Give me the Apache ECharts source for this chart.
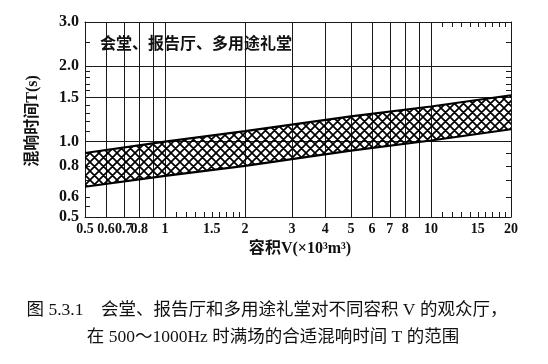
<!DOCTYPE html>
<html><head><meta charset="utf-8">
<script src="https://cdn.jsdelivr.net/npm/echarts@6/dist/echarts.min.js"></script>
<style>html,body{margin:0;padding:0;background:#fff}#c{width:548px;height:364px}</style>
</head><body><div id="c"></div>
<script>
// ---- data ----
const volumes = [0.5, 1, 2, 5, 10, 20];            // V (x10^3 m^3)
const upperT  = [0.90, 1.00, 1.10, 1.26, 1.38, 1.53]; // upper bound T (s)
const lowerT  = [0.66, 0.73, 0.80, 0.92, 1.01, 1.12]; // lower bound T (s)

const xTickLabels = [0.5, 0.6, 0.7, 0.8, 1, 1.5, 2, 3, 4, 5, 6, 7, 8, 10, 15, 20];
const xGridValues = [0.6, 0.7, 0.8, 0.9, 1, 2, 3, 4, 5, 6, 7, 8, 9, 10];
const xMinorBottom = [1.1, 1.2, 1.3, 1.4, 1.5, 1.6, 1.7, 1.8, 1.9, 11, 12, 13, 14, 15, 16, 17, 18, 19];
const xMinorTop = [11, 12, 13, 14, 15, 16, 17, 18, 19];
const yTickLabels = [0.5, 0.6, 0.8, 1.0, 1.5, 2.0, 3.0];
const yGridValues = [1.0, 1.5, 2.0];
const yMinorLeft = [0.55, 0.6, 0.7, 0.8, 0.9, 1.1, 1.2, 1.3, 1.4, 1.6, 1.7, 1.8, 1.9, 2.5];
const yMinorRight = [0.6, 0.7, 0.8, 0.9, 1.6, 1.7, 1.8, 1.9, 2.5];

const L = Math.log10;
const xMin = L(0.5), xMax = L(20), yMin = L(0.5), yMax = L(3.0);

function makeHatch() {
  const s = 9, c = document.createElement('canvas');
  c.width = s; c.height = s;
  const g = c.getContext('2d');
  g.strokeStyle = '#000'; g.lineWidth = 1.7;
  g.beginPath();
  for (const o of [-s, 0, s]) {
    g.moveTo(o, 0); g.lineTo(o + s, s);
    g.moveTo(o + s, 0); g.lineTo(o, s);
  }
  g.stroke();
  return c;
}
const hatch = makeHatch();

const serif = '"Liberation Serif", "Noto Sans CJK SC", serif';
const lineC = '#1a1a1a';

const chart = echarts.init(document.getElementById('c'), null, {renderer: 'canvas'});
const hiddenLabel = {show: false};
chart.setOption({
  animation: false,
  backgroundColor: '#fff',
  grid: {left: 85, right: 37, top: 22, bottom: 147, containLabel: false},
  xAxis: [
    { type: 'value', position: 'bottom', min: xMin, max: xMax,
      axisLine: {show: true, onZero: false, lineStyle: {color: lineC, width: 1}},
      axisTick: {show: true, inside: true, length: 5, customValues: xMinorBottom.map(L), lineStyle: {color: lineC}},
      axisLabel: {show: true, customValues: xTickLabels.map(L), margin: 5,
        formatter: v => String(Number(Math.pow(10, v).toPrecision(2))),
        fontFamily: serif, fontSize: 14, fontWeight: 'bold', color: '#111'},
      splitLine: {show: false} },
    { type: 'value', position: 'top', min: xMin, max: xMax,
      axisLine: {show: true, onZero: false, lineStyle: {color: lineC, width: 1}},
      axisTick: {show: true, inside: true, length: 195, customValues: xGridValues.map(L), lineStyle: {color: lineC, width: 1}},
      axisLabel: hiddenLabel, splitLine: {show: false} },
    { type: 'value', position: 'top', min: xMin, max: xMax,
      axisLine: {show: false, onZero: false},
      axisTick: {show: true, inside: true, length: 5, customValues: xMinorTop.map(L), lineStyle: {color: lineC}},
      axisLabel: hiddenLabel, splitLine: {show: false} }
  ],
  yAxis: [
    { type: 'value', position: 'left', min: yMin, max: yMax,
      axisLine: {show: true, onZero: false, lineStyle: {color: lineC, width: 1}},
      axisTick: {show: true, inside: true, length: 5, customValues: yMinorLeft.map(L), lineStyle: {color: lineC}},
      axisLabel: {show: true, customValues: yTickLabels.map(L), margin: 6,
        formatter: v => Math.pow(10, v).toFixed(1),
        fontFamily: serif, fontSize: 16, fontWeight: 'bold', color: '#111'},
      splitLine: {show: false} },
    { type: 'value', position: 'right', min: yMin, max: yMax,
      axisLine: {show: true, onZero: false, lineStyle: {color: lineC, width: 1}},
      axisTick: {show: true, inside: true, length: 426, customValues: yGridValues.map(L), lineStyle: {color: lineC, width: 1}},
      axisLabel: hiddenLabel, splitLine: {show: false} },
    { type: 'value', position: 'right', min: yMin, max: yMax,
      axisLine: {show: false, onZero: false},
      axisTick: {show: true, inside: true, length: 5, customValues: yMinorRight.map(L), lineStyle: {color: lineC}},
      axisLabel: hiddenLabel, splitLine: {show: false} }
  ],
  series: [
    { type: 'custom', xAxisIndex: 0, yAxisIndex: 0, z: 3,
      data: volumes.map((v, i) => [L(v), L(upperT[i]), L(lowerT[i])]),
      renderItem: function (params, api) {
        if (params.dataIndex !== 0) return null;
        const pts = [];
        for (let i = 0; i < volumes.length; i++) pts.push(api.coord([L(volumes[i]), L(upperT[i])]));
        for (let i = volumes.length - 1; i >= 0; i--) pts.push(api.coord([L(volumes[i]), L(lowerT[i])]));
        return {type: 'polygon', shape: {points: pts}, style: {fill: {image: hatch, repeat: 'repeat'}, stroke: null}};
      } },
    { type: 'line', name: 'upper', xAxisIndex: 0, yAxisIndex: 0, z: 4, symbol: 'none',
      data: volumes.map((v, i) => [L(v), L(upperT[i])]),
      lineStyle: {color: '#000', width: 2.2} },
    { type: 'line', name: 'lower', xAxisIndex: 0, yAxisIndex: 0, z: 4, symbol: 'none',
      data: volumes.map((v, i) => [L(v), L(lowerT[i])]),
      lineStyle: {color: '#000', width: 2.2} }
  ],
  graphic: [
    { type: 'text', x: 100, y: 43, z: 10,
      style: {text: '会堂、报告厅、多用途礼堂', font: 'bold 16px "Noto Sans CJK SC"', fill: '#111', textAlign: 'left', textVerticalAlign: 'middle'} },
    { type: 'text', x: 33, y: 121, rotation: Math.PI / 2, z: 10,
      style: {text: '混响时间T(s)', font: 'bold 16px "Liberation Serif", "Noto Sans CJK SC"', fill: '#111', textAlign: 'center', textVerticalAlign: 'middle'} },
    { type: 'text', x: 300, y: 249, z: 10,
      style: {text: '容积V(×10³m³)', font: 'bold 16px "Liberation Serif", "Noto Sans CJK SC"', fill: '#111', textAlign: 'center', textVerticalAlign: 'middle'} },
    { type: 'text', x: 267, y: 310, z: 10,
      style: {text: '图 5.3.1　会堂、报告厅和多用途礼堂对不同容积 V 的观众厅，', font: '17.5px "Liberation Serif", "Noto Sans CJK SC"', fill: '#111', textAlign: 'center', textVerticalAlign: 'middle'} },
    { type: 'text', x: 273, y: 337, z: 10,
      style: {text: '在 500～1000Hz 时满场的合适混响时间 T 的范围', font: '17.5px "Liberation Serif", "Noto Sans CJK SC"', fill: '#111', textAlign: 'center', textVerticalAlign: 'middle'} }
  ]
});
</script>
</body></html>
